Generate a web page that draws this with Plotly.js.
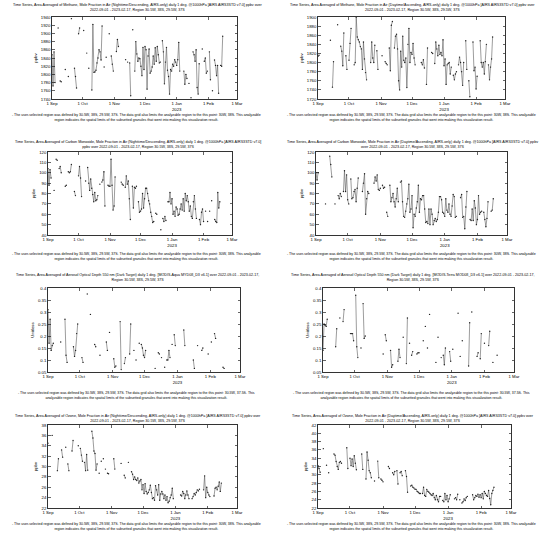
<!DOCTYPE html>
<html><head><meta charset="utf-8">
<script src="https://cdn.plot.ly/plotly-3.0.1.min.js"></script>
<style>html,body{margin:0;padding:0;background:#fff}#chart{width:550px;height:538px}</style>
</head><body><div id="chart"></div>
<script>
// ---------- DATA ----------
const startDate = '2022-09-01';
const nDays = 170; // 2022-09-01 .. 2023-02-17
const monthTickDates = ['2022-09-01','2022-10-01','2022-11-01','2022-12-01','2023-01-01','2023-02-01','2023-03-01'];
const monthTickLabels = ['1 Sep','1 Oct','1 Nov','1 Dec','1 Jan<br>2023','1 Feb','1 Mar'];

// Methane, Nighttime/Descending (ppbv): day offset from start, value
const ch4NightDay = [0,1,2,3,6,8,9,13,16,19,22,23,24,26,27,31,34,36,39,40,41,42,43,44,45,46,47,48,49,51,53,56,58,59,60,63,64,65,72,74,76,77,79,81,82,83,84,85,86,87,88,89,90,91,92,93,94,95,96,97,98,99,100,101,102,103,104,105,106,108,109,110,111,112,113,114,115,116,117,118,119,120,121,122,123,124,125,129,130,131,132,134,136,138,139,140,141,142,143,144,147,149,150,151,152,154,155,157,159,160,161,162,163,165,166,167];
const ch4NightVal = [1848,1772,1855,1780,1913,1784,1782,1812,1795,1936,1815,1795,1767,1899,1913,1907,1852,1815,1762,1922,1805,1806,1810,1828,1840,1860,1855,1835,1918,1818,1842,1899,1845,1825,1808,1856,1885,1868,1836,1830,1828,1748,1909,1808,1880,1850,1832,1840,1838,1820,1797,1866,1812,1868,1860,1764,1845,1862,1803,1808,1818,1845,1825,1865,1832,1868,1848,1828,1830,1882,1855,1777,1830,1866,1810,1795,1752,1812,1808,1825,1820,1836,1830,1822,1836,1878,1808,1808,1776,1800,1790,1778,1743,1855,1848,1832,1860,1768,1752,1826,1862,1832,1840,1803,1808,1855,1787,1760,1835,1822,1797,1822,1754,1822,1820,1893];

// Methane, Daytime/Ascending (ppbv)
const ch4DayDay = [0,1,12,14,15,19,22,23,24,25,27,28,30,31,32,35,36,37,38,39,40,41,42,43,44,45,46,47,51,52,53,54,55,57,58,62,65,66,67,69,70,71,72,74,75,76,77,78,79,80,81,82,83,84,85,86,87,88,89,90,91,92,93,94,100,101,102,103,105,106,110,111,113,114,115,116,117,118,119,120,121,122,123,124,125,126,127,128,129,131,132,133,134,136,137,138,139,140,141,143,144,146,147,150,151,152,153,154,157,158,159,160,161,162,163,165,166,167,168,169];
const ch4DayVal = [1814,1816,1849,1746,1802,1883,1836,1825,1793,1865,1815,1785,1805,1842,1875,1795,1800,1900,1856,1850,1845,1835,1830,1785,1845,1808,1778,1762,1800,1845,1810,1800,1838,1826,1785,1815,1802,1798,1795,1832,1782,1882,1890,1832,1858,1862,1830,1760,1740,1825,1790,1858,1805,1800,1810,1745,1840,1875,1800,1822,1818,1842,1810,1795,1800,1795,1806,1788,1752,1832,1822,1820,1798,1845,1830,1815,1838,1818,1822,1815,1850,1793,1808,1752,1795,1798,1800,1775,1790,1772,1762,1775,1780,1795,1812,1800,1780,1750,1800,1848,1785,1760,1725,1845,1782,1790,1742,1770,1848,1800,1790,1800,1775,1802,1840,1795,1762,1790,1808,1856];

// Carbon Monoxide, Nighttime/Descending (ppbv)
const coNightDay = [0,1,2,3,6,8,9,11,12,13,17,18,20,21,22,23,26,27,30,31,32,33,37,39,40,41,42,43,44,45,46,47,48,49,51,53,54,55,56,59,60,61,62,63,64,65,66,72,73,74,76,77,78,79,80,81,83,84,85,86,87,89,90,91,92,93,94,95,96,97,98,99,100,101,102,103,104,106,107,111,113,114,115,116,118,119,120,121,122,123,124,125,126,127,128,129,130,131,132,133,134,135,136,137,138,139,140,141,142,143,144,145,146,149,150,151,152,153,155,157,159,161,164,165,166,167,168,169];
const coNightVal = [104,88,103,95,83,113,112,104,106,100,87,88,101,100,101,108,82,78,97,106,95,77,92,105,90,83,94,85,79,72,81,73,74,78,89,91,93,101,68,88,87,87,113,88,64,68,96,91,89,88,86,97,89,92,75,55,87,66,86,85,87,72,62,63,65,80,66,75,85,85,80,73,70,62,58,52,53,61,60,45,56,53,58,54,72,72,81,70,75,60,63,58,67,65,59,60,65,70,64,75,63,80,73,78,72,63,68,58,56,72,78,65,56,55,50,62,65,53,63,53,63,73,55,53,52,81,66,72];

// Carbon Monoxide, Daytime/Ascending (ppbv)
const coDayDay = [0,1,2,9,13,14,15,18,21,22,23,24,26,27,28,29,30,31,33,34,35,36,37,38,39,40,44,45,46,47,48,49,50,55,56,57,58,59,60,61,63,64,65,67,68,70,71,72,73,74,75,76,77,78,80,81,82,83,84,85,86,87,88,89,90,91,92,93,94,95,96,97,98,99,100,101,102,103,104,105,106,107,108,109,110,111,112,113,114,115,116,117,118,119,120,121,122,123,124,125,126,127,128,129,130,131,132,133,137,138,139,140,141,142,143,146,147,148,149,150,151,152,153,154,155,156,157,159,160,161,162,163,166,167,168];
const coDayVal = [100,93,100,70,116,108,96,70,78,75,80,77,82,102,82,98,74,70,94,75,76,82,84,72,85,95,82,90,99,60,75,82,80,90,96,92,98,84,83,85,88,85,86,62,58,88,72,76,80,72,67,75,85,72,91,92,72,58,57,63,70,75,89,62,65,78,47,60,58,66,72,88,62,75,74,78,78,65,52,53,51,65,50,65,60,50,54,56,53,55,62,77,77,74,62,61,58,75,64,62,70,60,58,68,79,77,57,58,76,79,57,58,46,67,82,55,54,65,54,73,66,50,55,78,60,62,63,62,55,48,56,72,63,64,75];

// Aerosol Optical Depth 550 nm, MODIS-Aqua (unitless)
const aodAquaDay = [0,1,2,3,4,5,12,16,17,18,24,25,26,27,28,32,33,37,40,44,45,49,55,56,58,62,63,64,68,69,72,73,77,78,81,83,86,88,89,90,91,92,101,104,105,107,110,112,113,114,115,117,119,120,128,129,137,138,141,145,146,151,154,157,158,165,166];
const aodAquaVal = [0.31,0.17,0.27,0.14,0.16,0.17,0.175,0.27,0.12,0.09,0.155,0.115,0.14,0.21,0.25,0.11,0.09,0.375,0.29,0.165,0.155,0.12,0.175,0.14,0.215,0.105,0.07,0.075,0.26,0.06,0.085,0.11,0.125,0.25,0.14,0.1,0.17,0.165,0.15,0.12,0.11,0.14,0.065,0.13,0.125,0.11,0.07,0.1,0.1,0.14,0.11,0.165,0.205,0.16,0.225,0.16,0.1,0.065,0.16,0.14,0.15,0.125,0.175,0.21,0.19,0.07,0.065];

// Aerosol Optical Depth 550 nm, MODIS-Terra (unitless)
const aodTerraDay = [0,1,2,3,4,12,13,16,19,20,26,27,28,29,31,32,33,36,38,39,40,57,59,60,64,65,66,71,72,73,76,79,80,82,84,85,89,90,91,95,97,99,101,107,109,112,114,115,116,120,121,123,128,130,132,138,139,141,146,147,149,150,153,157,158,161,165];
const aodTerraVal = [0.14,0.25,0.245,0.24,0.27,0.155,0.23,0.275,0.26,0.31,0.21,0.21,0.21,0.18,0.37,0.155,0.11,0.15,0.335,0.19,0.2,0.125,0.205,0.18,0.14,0.07,0.08,0.095,0.145,0.11,0.195,0.085,0.275,0.17,0.12,0.135,0.125,0.13,0.13,0.18,0.24,0.15,0.29,0.09,0.195,0.11,0.12,0.08,0.15,0.135,0.095,0.145,0.295,0.115,0.18,0.075,0.255,0.3,0.115,0.13,0.105,0.21,0.17,0.16,0.22,0.09,0.12];

// Ozone, Nighttime/Descending (ppbv)
const o3NightDay = [0,4,9,10,13,14,17,19,20,23,24,29,31,32,33,35,36,37,38,42,43,44,45,46,47,49,51,53,55,57,58,63,64,70,73,74,77,80,81,82,83,84,85,86,87,88,89,90,91,92,93,94,95,96,97,98,99,100,101,102,103,104,105,106,107,108,109,110,111,112,113,114,115,116,117,118,119,120,127,128,129,130,131,132,133,134,135,138,139,140,141,142,143,144,145,149,150,151,152,153,154,155,159,160,161,162,163,164,165,166];
const o3NightVal = [34.5,36,29.2,31.5,33.2,31.8,33.7,30.5,29.2,33,35,34,33.5,32.2,31,30.8,29.2,32.3,29.3,36.8,35.5,33,32.5,29.3,30.5,28.7,31,31.5,29.5,28.7,28.6,31.5,29.5,30.6,28.3,27.8,30.8,29,28.5,27.5,28,27.5,27.3,27.8,26.8,27.2,27.5,25.5,26.5,24.8,26.7,25.2,24.7,25,25.5,26.4,25,23.8,24,23.5,26.3,25.5,24.5,26.5,23.5,24.7,25.2,24.7,23.8,24.5,23.5,24.2,23,23.3,24,24.5,25.8,23.8,24.5,24.3,25.2,24.8,23.8,24.5,25.3,24.5,23.8,23.8,24.2,24.8,24.5,25,25.5,25.3,25.6,25.5,28.2,24,26,25,24.5,24.2,24.3,25.8,26,25.5,26.2,27,25.2,26.8];

// Ozone, Daytime/Ascending (ppbv)
const o3DayDay = [0,1,2,5,8,10,15,16,17,18,19,20,21,22,27,28,30,31,32,33,34,35,36,41,42,45,46,47,48,49,50,53,56,57,59,60,61,66,67,70,71,72,74,75,77,78,79,82,83,84,87,88,89,90,91,92,93,94,95,96,98,99,100,101,102,103,104,105,106,107,108,109,110,111,112,113,114,115,117,118,119,120,121,122,123,124,128,129,130,131,133,135,136,137,138,139,140,145,146,147,148,149,150,151,152,153,154,155,156,157,158,159,160,161,162,163,164,165];
const o3DayVal = [32.2,31.5,30.6,36.3,32.3,30.5,35,34.7,33.2,32,31.3,33,33.2,32.8,36.5,31.5,34,32.2,33.8,32,34.6,32.8,31.2,35,31.3,29,35.5,33.5,31,30.5,29.3,28.5,33.3,29.3,29,28.7,28.3,32,31.5,30.5,30,30.8,31,27.8,30.5,30.8,29.8,31,29.6,25.8,27.3,27.5,27,26.8,26.5,26.5,26,25.8,25.5,25.5,25.5,27,25,24.8,26.5,26,25.8,25.5,25.2,25,25.5,24.5,24,25,24,23.5,24.8,24.8,23.8,23.5,25.5,24,25,23.5,24.2,25.2,24.2,24.5,24,25.3,24,23.2,23.5,24.2,23.8,24.5,24.8,25.2,24,24.5,25,24.8,25.3,24.6,25.2,24.5,25.5,24.2,26,25.5,25,24.8,26.2,24.3,22.8,25.5,26.2,27];

const seriesDays = [ch4NightDay, ch4DayDay, coNightDay, coDayDay, aodAquaDay, aodTerraDay, o3NightDay, o3DayDay];
const seriesVals = [ch4NightVal, ch4DayVal, coNightVal, coDayVal, aodAquaVal, aodTerraVal, o3NightVal, o3DayVal];

const yUnits = ['ppbv','ppbv','ppbv','ppbv','Unitless','Unitless','ppbv','ppbv'];

const regionText = 'Region 30.5W, 38S, 29.5W, 37S';
const panelTitles = [
 'Time Series, Area Averaged of Methane, Mole Fraction in Air (Nighttime/Descending, AIRS-only) daily 1 deg. @1000hPa [AIRS AIRS3STD v7.0] ppbv over<br>2022-09-01 - 2023-02-17, ' + regionText,
 'Time Series, Area Averaged of Methane, Mole Fraction in Air (Daytime/Ascending, AIRS-only) daily 1 deg. @1000hPa [AIRS AIRS3STD v7.0] ppbv over<br>2022-09-01 - 2023-02-17, ' + regionText,
 'Time Series, Area Averaged of Carbon Monoxide, Mole Fraction in Air (Nighttime/Descending, AIRS-only) daily 1 deg. @1000hPa [AIRS AIRS3STD v7.0]<br>ppbv over 2022-09-01 - 2023-02-17, ' + regionText,
 'Time Series, Area Averaged of Carbon Monoxide, Mole Fraction in Air (Daytime/Ascending, AIRS-only) daily 1 deg. @1000hPa [AIRS AIRS3STD v7.0] ppbv<br>over 2022-09-01 - 2023-02-17, ' + regionText,
 'Time Series, Area Averaged of Aerosol Optical Depth 550 nm (Dark Target) daily 1 deg. [MODIS-Aqua MYD08_D3 v6.1] over 2022-09-01 - 2023-02-17,<br>' + regionText,
 'Time Series, Area Averaged of Aerosol Optical Depth 550 nm (Dark Target) daily 1 deg. [MODIS-Terra MOD08_D3 v6.1] over 2022-09-01 - 2023-02-17,<br>' + regionText,
 'Time Series, Area Averaged of Ozone, Mole Fraction in Air (Nighttime/Descending, AIRS-only) daily 1 deg. @1000hPa [AIRS AIRS3STD v7.0] ppbv over<br>2022-09-01 - 2023-02-17, ' + regionText,
 'Time Series, Area Averaged of Ozone, Mole Fraction in Air (Daytime/Ascending, AIRS-only) daily 1 deg. @1000hPa [AIRS AIRS3STD v7.0] ppbv over<br>2022-09-01 - 2023-02-17, ' + regionText
];
const noteA = '- The user-selected region was defined by 30.5W, 38S, 29.5W, 37S. The data grid also limits the analyzable region to the this point: 30W, 38S. This analyzable<br>region indicates the spatial limits of the subsetted granules that went into making this visualization result.';
const noteB = '- The user-selected region was defined by 30.5W, 38S, 29.5W, 37S. The data grid also limits the analyzable region to the this point: 30.5W, 37.5S. This<br>analyzable region indicates the spatial limits of the subsetted granules that went into making this visualization result.';
const footnotes = [noteA, noteA, noteA, noteA, noteB, noteB, noteA, noteA];

// ---------- LAYOUT (pixel geometry) ----------
const W = 550, H = 538;
const boxes = [ // [left, right, top, bottom] in px
  [52,237,17,99],[318,505,17,99],
  [48,232,152,235],[316,507,152,235],
  [48,240,288,372],[323,514,288,372],
  [48,237,425,508],[318,511,425,508]
];
const yRanges = [[1740,1940],[1720,1900],[40,120],[40,120],[0.05,0.4],[0.05,0.4],[22,38],[22,42]];
const yDticks = [20,20,10,10,0.05,0.05,2,2];
const titleTop = [2,2,139,139,272,272,412.5,412.5];
const noteTop = [112,112,251,251,390,390,521,521];
const colCenter = [137.5,412.5];
const noteCenter = [136,411];

function dayToDate(d){
  const t = Date.UTC(2022,8,1) + d*86400000;
  return new Date(t).toISOString().slice(0,10);
}

const FONT = 'Liberation Sans, Arial, sans-serif';
const traces = [];
const layout = {
  width: W, height: H, margin:{l:0,r:0,t:0,b:0},
  paper_bgcolor:'#fff', plot_bgcolor:'#fff', showlegend:false,
  font:{family:FONT, color:'#000', size:4.2},
  annotations: []
};

for (let i=0;i<8;i++){
  const days = seriesDays[i], vals = seriesVals[i];
  if (days.length !== vals.length) throw new Error('length mismatch in series '+i+': '+days.length+' vs '+vals.length);
  const full = new Array(nDays).fill(null);
  days.forEach((d,k)=>{ full[d] = vals[k]; });
  const xs = [];
  for (let d=0; d<nDays; d++) xs.push(dayToDate(d));
  const sfx = i===0 ? '' : String(i+1);
  traces.push({
    type:'scatter', mode:'lines+markers', x: xs, y: full, connectgaps:false,
    xaxis:'x'+sfx, yaxis:'y'+sfx,
    line:{color:'#5a5a5a', width:0.6},
    marker:{color:'#222', size:1.4},
    hoverinfo:'x+y'
  });
  const b = boxes[i];
  const axCommon = {
    showline:true, linecolor:'#000', linewidth:0.8, mirror:'ticks',
    ticks:'inside', ticklen:2.5, tickwidth:0.6, tickcolor:'#000',
    showgrid:false, zeroline:false, tickfont:{family:FONT,size:4.3,color:'#000'}
  };
  layout['xaxis'+sfx] = Object.assign({}, axCommon, {
    type:'date', domain:[b[0]/W, b[1]/W], anchor:'y'+sfx,
    range:['2022-09-01','2023-03-01'], tickmode:'array',
    tickvals: monthTickDates, ticktext: monthTickLabels, ticklabelstandoff:0
  });
  layout['yaxis'+sfx] = Object.assign({}, axCommon, {
    domain:[1-b[3]/H, 1-b[2]/H], anchor:'x'+sfx,
    range: yRanges[i], tick0: yRanges[i][0], dtick: yDticks[i],
    title:{text: yUnits[i], font:{family:FONT,size:4.3,color:'#000'}, standoff:3}
  });
  const col = i%2;
  layout.annotations.push({
    xref:'paper', yref:'paper', x: colCenter[col]/W, y: 1-titleTop[i]/H,
    xanchor:'center', yanchor:'top', showarrow:false, borderpad:0,
    text: panelTitles[i], font:{family:FONT,size:3.65,color:'#000'}, align:'center'
  });
  layout.annotations.push({
    xref:'paper', yref:'paper', x: noteCenter[col]/W, y: 1-noteTop[i]/H,
    xanchor:'center', yanchor:'top', showarrow:false, borderpad:0,
    text: footnotes[i], font:{family:FONT,size:3.55,color:'#000'}, align:'center'
  });
}

Plotly.newPlot('chart', traces, layout, {staticPlot:true, displayModeBar:false});
</script>
</body></html>
